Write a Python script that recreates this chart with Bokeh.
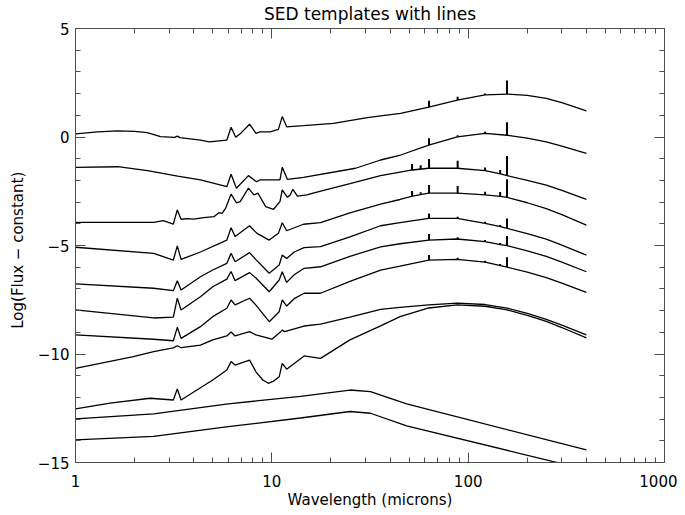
import numpy as np
from bokeh.plotting import figure
from bokeh.models import LogAxis, LinearAxis, FixedTicker, Range1d
from bokeh.embed import file_html
from bokeh.resources import INLINE

# ---------------- data ----------------
x_ticks = [1, 10, 100, 1000]
x_tick_labels = ["1", "10", "100", "1000"]
x_minor = [2, 3, 4, 5, 6, 7, 8, 9, 20, 30, 40, 50, 60, 70, 80, 90,
           200, 300, 400, 500, 600, 700, 800, 900]
y_ticks = [-15, -10, -5, 0, 5]
y_tick_labels = ["\u221215", "\u221210", "\u22125", "0", "5"]
y_minor = list(range(-15, 6))

c1_wl = [1.0, 1.3, 1.63, 2.0, 2.32, 2.71, 3.2, 3.3, 3.4, 4.33, 4.8, 5.9, 6.2, 6.55, 7.0, 7.7, 8.3, 8.7, 9.8,
         10.8, 11.3, 11.9, 14.5, 20.6, 30.7, 35.8, 45.3, 63, 88, 122, 158, 200, 250, 300, 400]
c1_y = [0.14, 0.24, 0.28, 0.26, 0.20, 0.02, -0.02, 0.04, -0.03, -0.14, -0.22, -0.14, 0.45, -0.01, 0.20, 0.59,
        0.17, 0.24, 0.24, 0.35, 0.94, 0.47, 0.52, 0.63, 0.89, 0.97, 1.09, 1.38, 1.70, 1.94, 1.98, 1.92, 1.78,
        1.58, 1.20]

c2_wl = [1.0, 1.64, 2.33, 3.31, 4.33, 5.9, 6.2, 6.6, 7.6, 8.35, 8.7, 11.0, 11.3, 12.0, 14.5, 26.7, 35.8, 45.3,
         63, 88, 122, 158, 200, 250, 300, 400]
c2_y = [-1.40, -1.37, -1.55, -1.80, -1.98, -2.29, -1.72, -2.36, -1.78, -2.06, -1.98, -1.98, -1.40, -1.95,
        -1.86, -1.44, -1.06, -0.83, -0.37, 0.01, 0.17, 0.08, -0.05, -0.22, -0.42, -0.75]

c3_wl = [1.0, 2.5, 2.8, 3.15, 3.3, 3.45, 3.7, 4.0, 4.5, 5.07, 5.37, 5.58, 5.81, 6.2, 6.6, 6.9, 7.6, 8.1, 8.5,
         9.3, 10.2, 11.0, 11.3, 12.0, 12.4, 12.8, 13.5, 15.1, 16.4, 25, 35.8, 45, 52, 63, 88, 122, 146, 158,
         200, 250, 300, 400]
c3_y = [-3.93, -3.93, -3.85, -4.01, -3.36, -3.79, -3.76, -3.78, -3.72, -3.67, -3.49, -3.52, -3.29, -2.63,
        -3.03, -2.98, -2.36, -2.67, -2.59, -3.21, -3.33, -2.98, -2.44, -2.78, -2.67, -2.41, -2.72, -2.67,
        -2.57, -2.15, -1.78, -1.62, -1.52, -1.44, -1.44, -1.55, -1.70, -1.78, -2.00, -2.22, -2.46, -2.87]

c4_wl = [1.0, 2.5, 3.15, 3.3, 3.45, 4.33, 5.9, 6.2, 6.5, 7.7, 8.4, 9.7, 10.8, 11.3, 11.9, 14.5, 17.7, 25,
         35.8, 45, 52, 63, 88, 122, 146, 158, 200, 250, 300, 400]
c4_y = [-5.08, -5.36, -5.67, -5.02, -5.64, -5.30, -4.75, -4.18, -4.59, -4.09, -4.44, -4.75, -4.44, -3.95,
        -4.32, -4.02, -3.95, -3.50, -3.09, -2.88, -2.72, -2.59, -2.59, -2.67, -2.74, -2.78, -3.03, -3.30,
        -3.58, -4.06]

c5_wl = [1.0, 2.5, 3.15, 3.3, 3.45, 4.33, 5.0, 5.9, 6.2, 6.5, 7.7, 8.3, 9.7, 10.9, 11.3, 11.9, 13.0, 14.6,
         17.7, 25, 35.8, 45, 63, 88, 122, 146, 158, 200, 250, 300, 400]
c5_y = [-6.77, -6.97, -7.08, -6.62, -7.05, -6.44, -6.13, -5.82, -5.36, -5.75, -5.33, -5.65, -6.28, -5.90,
        -5.44, -5.60, -5.30, -5.10, -5.05, -4.60, -4.09, -3.95, -3.75, -3.75, -3.98, -4.13, -4.21, -4.45,
        -4.71, -4.98, -5.44]

c6_wl = [1.0, 2.5, 3.15, 3.3, 3.45, 4.33, 5.0, 5.9, 6.2, 6.5, 7.7, 8.3, 9.7, 10.9, 11.3, 11.9, 13.0, 14.6,
         17.7, 25, 35.8, 45, 63, 88, 122, 146, 158, 200, 250, 300, 400]
c6_y = [-7.97, -8.34, -8.30, -7.43, -7.97, -7.36, -6.90, -6.55, -6.20, -6.62, -6.25, -6.50, -7.13, -6.59,
        -6.21, -6.70, -6.35, -6.05, -5.98, -5.50, -5.06, -4.92, -4.75, -4.70, -4.82, -4.96, -5.01, -5.25,
        -5.50, -5.77, -6.21]

c7_wl = [1.0, 2.5, 3.15, 3.3, 3.45, 4.33, 5.0, 5.9, 6.2, 6.5, 7.7, 8.3, 9.7, 10.9, 11.3, 11.9, 13.0, 14.6,
         17.7, 25, 35.8, 45, 63, 88, 122, 146, 158, 200, 250, 300, 400]
c7_y = [-9.12, -9.32, -9.39, -8.77, -9.28, -8.74, -8.28, -7.89, -7.51, -7.74, -7.43, -7.75, -8.51, -8.05,
        -7.51, -7.79, -7.45, -7.20, -7.20, -6.65, -6.13, -5.95, -5.67, -5.64, -5.77, -5.93, -6.00, -6.23,
        -6.48, -6.73, -7.16]

c8_wl = [1.0, 1.97, 2.5, 3.15, 3.3, 3.45, 4.33, 5.0, 5.9, 6.2, 6.5, 7.7, 8.3, 10.0, 11.1, 11.3, 11.6, 14.6,
         17.7, 25, 35.8, 45, 63, 88, 122, 158, 200, 250, 300, 400]
c8_y = [-10.66, -10.12, -9.89, -9.72, -9.62, -9.71, -9.59, -9.35, -9.17, -8.99, -9.17, -8.97, -9.12, -9.32,
        -8.97, -8.90, -8.97, -8.71, -8.62, -8.30, -7.94, -7.85, -7.74, -7.66, -7.72, -7.89, -8.13, -8.40,
        -8.67, -9.12]

c9_wl = [1.0, 1.5, 2.4, 3.15, 3.3, 3.45, 5.0, 5.9, 6.2, 6.5, 7.7, 8.3, 9.0, 9.6, 10.2, 10.9, 11.3, 11.9,
         14.6, 17.7, 25, 35.8, 45, 63, 88, 122, 158, 200, 250, 300, 400]
c9_y = [-12.53, -12.26, -12.04, -12.12, -11.61, -12.12, -11.20, -10.74, -10.35, -10.51, -10.28, -10.82,
        -11.20, -11.35, -11.25, -11.05, -10.43, -10.70, -10.09, -10.20, -9.35, -8.70, -8.28, -7.88, -7.74,
        -7.80, -7.97, -8.22, -8.50, -8.78, -9.26]

c10_wl = [1.0, 2.5, 6.0, 14.0, 25.0, 31.8, 48.6, 400]
c10_y = [-12.99, -12.76, -12.30, -11.95, -11.66, -11.73, -12.30, -14.42]

c11_wl = [1.0, 2.5, 6.0, 14.0, 25.0, 31.8, 48.6, 400]
c11_y = [-13.96, -13.80, -13.35, -12.95, -12.65, -12.73, -13.31, -15.33]

# far-IR fine-structure lines: wavelengths and peak heights per template (nan = absent)
line_wl = [51.8, 57.3, 63.2, 88.4, 121.9, 145.5, 157.7]
nan = float("nan")
c1_line_top = [nan, nan, 1.67, 1.85, 2.00, nan, 2.60]
c2_line_top = [nan, nan, -0.06, 0.08, 0.24, nan, 0.68]
c3_line_top = [-1.24, -1.30, -1.01, -1.09, -1.40, -1.52, -0.88]
c4_line_top = [-2.49, -2.55, -2.21, -2.26, -2.52, -2.54, -1.95]
c5_line_top = [nan, nan, -3.52, -3.67, -3.90, -4.05, -3.75]
c6_line_top = [nan, nan, -4.47, -4.62, -4.75, -4.88, -4.56]
c7_line_top = [nan, nan, -5.44, -5.56, -5.70, -5.85, -5.54]

curves = [(c1_wl, c1_y, c1_line_top), (c2_wl, c2_y, c2_line_top), (c3_wl, c3_y, c3_line_top),
          (c4_wl, c4_y, c4_line_top), (c5_wl, c5_y, c5_line_top), (c6_wl, c6_y, c6_line_top),
          (c7_wl, c7_y, c7_line_top), (c8_wl, c8_y, None), (c9_wl, c9_y, None),
          (c10_wl, c10_y, None), (c11_wl, c11_y, None)]

# ---------------- figure ----------------
FONT = "DejaVu Sans"
AX = "#4d4d4d"

p = figure(width=677, height=513, x_axis_type="log",
           x_range=Range1d(1, 1000), y_range=Range1d(-15, 5),
           output_backend="svg", toolbar_location=None,
           min_border_left=75, min_border_right=13, min_border_top=28, min_border_bottom=51)
p.xgrid.visible = False
p.ygrid.visible = False
p.outline_line_color = AX
p.background_fill_color = "white"
p.border_fill_color = "white"


def style_axis(ax, show_labels):
    ax.axis_line_color = AX
    ax.axis_line_width = 1
    ax.major_tick_line_color = AX
    ax.minor_tick_line_color = AX
    ax.major_tick_in = 10
    ax.major_tick_out = 0
    ax.minor_tick_in = 5
    ax.minor_tick_out = 0
    ax.major_label_text_font = FONT
    ax.major_label_text_color = "black"
    ax.axis_label_text_font = FONT
    ax.axis_label_text_font_style = "normal"
    ax.axis_label_text_color = "black"
    if not show_labels:
        ax.major_label_text_font_size = "1px"
        ax.major_label_text_alpha = 0
        ax.major_label_standoff = 0


xt = FixedTicker(ticks=x_ticks, minor_ticks=x_minor)
yt = FixedTicker(ticks=y_ticks, minor_ticks=y_minor)

xa = p.xaxis[0]
xa.ticker = xt
xa.major_label_overrides = {float(v): s for v, s in zip(x_ticks, x_tick_labels)}
style_axis(xa, True)
xa.major_label_text_font_size = "15px"
xa.major_label_standoff = 12
xa.axis_label = "Wavelength (microns)"
xa.axis_label_text_font_size = "15px"
xa.axis_label_standoff = 1

ya = p.yaxis[0]
ya.ticker = yt
ya.major_label_overrides = {float(v): s for v, s in zip(y_ticks, y_tick_labels)}
style_axis(ya, True)
ya.major_label_text_font_size = "15px"
ya.major_label_standoff = 6
ya.axis_label = "Log(Flux  \u2212  constant)"
ya.axis_label_text_font_size = "15px"
ya.axis_label_standoff = 8

top = LogAxis(ticker=FixedTicker(ticks=x_ticks, minor_ticks=x_minor))
style_axis(top, False)
top.axis_label = "SED templates with lines"
top.axis_label_text_font_size = "17px"
top.axis_label_standoff = 5
p.add_layout(top, "above")

right = LinearAxis(ticker=FixedTicker(ticks=y_ticks, minor_ticks=y_minor))
style_axis(right, False)
p.add_layout(right, "right")

for wl, yv, tops in curves:
    p.line(wl, yv, line_color="black", line_width=1.3)
    if tops is not None:
        lw = np.array(line_wl)
        tp = np.array(tops)
        ok = ~np.isnan(tp)
        base = np.interp(np.log10(lw[ok]), np.log10(wl), yv)
        p.segment(x0=lw[ok], y0=base, x1=lw[ok], y1=tp[ok], line_color="black", line_width=2)

open("out.html", "w").write(file_html(p, INLINE))
